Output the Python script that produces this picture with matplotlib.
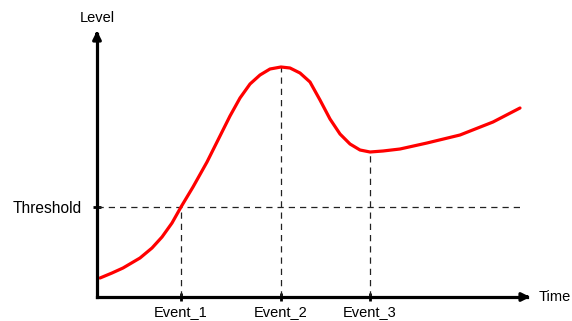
import matplotlib
matplotlib.use("Agg")
import matplotlib.pyplot as plt

plt.rcParams["font.family"] = ["Liberation Sans", "DejaVu Sans"]

# curve (time, level)
TIME = [3, 15, 26, 43, 55, 65, 75, 84, 96, 110, 121, 133, 143, 153, 163, 173,
        184, 193, 203, 213, 223, 233, 243, 253, 263, 273, 286, 303, 330,
        363, 396, 423]
LEVEL = [19, 24, 29, 39, 49, 60, 74, 90, 110, 135, 157, 181, 199, 213, 222, 228,
         230, 229, 224, 215, 197, 178, 163, 153, 147, 145, 146, 148, 154,
         162, 175, 189]

EVENT_NAMES = ["Event_1", "Event_2", "Event_3"]
EVENT_TIMES = [84, 184, 273]
EVENT_LEVELS = [90, 230, 145]
THRESHOLD = 90
X_END = 436
Y_END = 269

FONT_SIZE = 10.5
AXIS_LW = 2.3

fig = plt.figure(figsize=(5.72, 3.21), dpi=100)
ax = fig.add_axes([0, 0, 1, 1])
ax.set_xlim(-97, 475)
ax.set_ylim(-24, 297)

for side in ("top", "right"):
    ax.spines[side].set_visible(False)
for side in ("left", "bottom"):
    ax.spines[side].set_position(("data", 0))
    ax.spines[side].set_linewidth(AXIS_LW)
ax.spines["bottom"].set_bounds(0, X_END - 6)
ax.spines["left"].set_bounds(0, Y_END - 6)

# arrow heads
ax.annotate("", xy=(X_END, 0), xytext=(X_END - 10, 0),
            arrowprops=dict(arrowstyle="-|>", color="black", lw=AXIS_LW, mutation_scale=12))
ax.annotate("", xy=(0, Y_END), xytext=(0, Y_END - 10),
            arrowprops=dict(arrowstyle="-|>", color="black", lw=AXIS_LW, mutation_scale=12))

ax.set_xticks(EVENT_TIMES)
ax.set_xticklabels(EVENT_NAMES, fontsize=FONT_SIZE)
ax.set_yticks([THRESHOLD])
ax.set_yticklabels(["Threshold"], fontsize=11.2)
ax.tick_params(axis="x", direction="inout", length=6, width=2, pad=2.5)
ax.tick_params(axis="y", direction="inout", length=6, width=2, pad=8)

# guide lines
ax.plot([0, 423], [THRESHOLD, THRESHOLD], color="#222222", lw=0.9, ls=(0, (5, 4)))
for t, lv in zip(EVENT_TIMES, EVENT_LEVELS):
    ax.plot([t, t], [0, lv], color="#222222", lw=0.9, ls=(0, (5, 4)))

ax.plot(TIME, LEVEL, color="#ff0000", lw=2.3, solid_capstyle="round", solid_joinstyle="round")

ax.text(0, Y_END + 10, "Level", ha="center", va="center", fontsize=FONT_SIZE)
ax.text(X_END + 6, 0, "Time", ha="left", va="center", fontsize=FONT_SIZE)

fig.savefig("out.png", dpi=100)
